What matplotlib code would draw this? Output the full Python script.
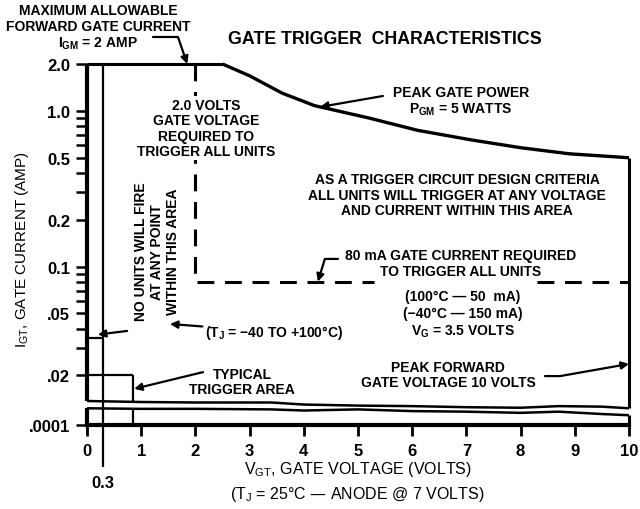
import numpy as np
import matplotlib
matplotlib.use('Agg')
import matplotlib.pyplot as plt

plt.rcParams['font.family'] = ['Liberation Sans', 'DejaVu Sans']
plt.rcParams['mathtext.default'] = 'regular'

# values
x_ticks = [0, 1, 2, 3, 4, 5, 6, 7, 8, 9, 10]
y_ticks = [2.0, 1.0, 0.5, 0.2, 0.1, 0.05, 0.02, 0.0001]
y_ticklabels = ['2.0', '1.0', '0.5', '0.2', '0.1', '.05', '.02', '.0001']
y_minor = [0.9, 0.8, 0.7, 0.6, 0.4, 0.3, 0.09, 0.08, 0.07, 0.06, 0.04, 0.03]

igm = 2.0          # max forward gate current
i_floor = 0.0001   # bottom of the broken axis
v_max = 10.0       # peak forward gate voltage
v_trig = 2.0       # gate voltage to trigger all units
i_trig = 0.08      # gate current to trigger all units
dash_gap = [5.3, 8.3]
v_nofire = 0.3
i_nofire = 0.035
v_typ = 0.85
i_typ = 0.02

# peak gate power curve (5 W)
power_v = [2.5, 3.0, 3.6, 4.2, 5.2, 6.1, 7.1, 8.0, 8.9, 10.0]
power_i = [2.0, 1.68, 1.3, 1.08, 0.9, 0.75, 0.65, 0.58, 0.53, 0.5]

# wavy lines of the axis break
break_v = [0, 1, 2, 3.4, 4, 5, 6, 7, 8, 8.7, 9.5, 10]
break_upper = [0.0137, 0.0135, 0.0134, 0.0134, 0.0130, 0.0128, 0.0127, 0.0125, 0.0124, 0.0127, 0.0126, 0.0123]
break_lower = [0.0123, 0.0122, 0.0122, 0.0121, 0.0119, 0.0121, 0.0118, 0.0117, 0.0115, 0.0117, 0.0113, 0.0111]

# broken log scale: normal log above LB, squeezed below
LB = np.log10(0.0108)
K = 0.025


def fwd(y):
    y = np.asarray(y, dtype=float)
    with np.errstate(all='ignore'):
        ly = np.log10(np.where(y > 0, y, 1e-300))
        return np.where(ly >= LB, ly, LB - (LB - ly) * K)


def inv(t):
    t = np.asarray(t, dtype=float)
    with np.errstate(all='ignore'):
        return np.where(t >= LB, 10.0 ** t, 10.0 ** (LB - (LB - t) / K))


fig = plt.figure(figsize=(6.4, 5.1), dpi=100)
ax = fig.add_axes([87 / 640, 84 / 510, 542 / 640, 361 / 510])
ax.set_yscale('function', functions=(fwd, inv))
ax.set_xlim(0, 10)
ax.set_ylim(i_floor, igm)

for s in ['top', 'right', 'left']:
    ax.spines[s].set_visible(False)
ax.spines['bottom'].set_linewidth(3)

k = dict(color='black', clip_on=False, solid_capstyle='butt')
up_typ = np.interp(v_typ, break_v, break_upper)
lo_typ = np.interp(v_typ, break_v, break_lower)

# outline of the allowed region
ax.plot([0, 0], [igm, break_upper[0]], lw=3, **k)
ax.plot([0, 0], [break_lower[0], i_floor], lw=3, **k)
ax.plot([0, power_v[0]], [igm, igm], lw=2.2, **k)
ax.plot(power_v, power_i, lw=2.4, **k)
ax.plot([v_max, v_max], [power_i[-1], break_upper[-1]], lw=2.2, **k)
ax.plot([v_max, v_max], [break_lower[-1], i_floor], lw=2.2, **k)
ax.plot(break_v, break_upper, lw=1.8, **k)
ax.plot(break_v, break_lower, lw=1.8, **k)

# no-fire strip and typical trigger area
ax.plot([v_nofire, v_nofire], [igm, i_floor], lw=1.6, **k)
ax.plot([0, v_nofire], [i_nofire, i_nofire], lw=1.6, **k)
ax.plot([0, v_typ], [i_typ, i_typ], lw=1.6, **k)
ax.plot([v_typ, v_typ], [i_typ, up_typ], lw=1.6, **k)
ax.plot([v_typ, v_typ], [lo_typ, i_floor], lw=1.6, **k)

# dashed trigger boundary
ax.plot([v_trig, v_trig, dash_gap[0]], [igm, i_trig, i_trig], lw=2.2,
        dashes=(5.5, 3.5), color='black', clip_on=False)
ax.plot([dash_gap[1], v_max], [i_trig, i_trig], lw=2.2,
        dashes=(5.5, 3.5), color='black', clip_on=False)

# ticks
ax.set_xticks(x_ticks)
ax.set_xticks([0.3], ['0.3'], minor=True)
ax.set_yticks(y_ticks, y_ticklabels)
ax.set_yticks(y_minor, minor=True)
ax.tick_params(axis='x', which='major', direction='out', length=8, width=2,
               pad=5, labelsize=12)
ax.tick_params(axis='x', which='minor', direction='out', length=30, width=1.6,
               pad=6, labelsize=12)
ax.tick_params(axis='y', which='both', direction='out', length=8, width=1.8,
               pad=4, labelsize=12)
for lab in ax.get_xticklabels(which='both') + ax.get_yticklabels():
    lab.set_fontweight('bold')

tb = dict(fontsize=10, fontweight='bold', ha='center', va='center')
ap = dict(arrowstyle='-|>', color='black', lw=1.6, mutation_scale=11,
          shrinkA=0, shrinkB=0)

ax.text(2.2, 0.776, '2.0 VOLTS\nGATE VOLTAGE\nREQUIRED TO\nTRIGGER ALL UNITS',
        linespacing=1.15, bbox=dict(fc='white', ec='none', pad=1), **tb)
ax.text(1.29, 0.126, 'NO UNITS WILL FIRE\nAT ANY POINT\nWITHIN THIS AREA',
        rotation=90, linespacing=1.15, **tb)
ax.annotate(r'($T_J$ = −40 TO +100°C)', xy=(1.53, 0.0428), xytext=(2.18, 0.038),
            fontsize=10, fontweight='bold', ha='left', va='center',
            arrowprops=ap)
ax.annotate('', xy=(0.2, 0.0366), xytext=(0.74, 0.0386), arrowprops=ap)
ax.text(6.83, 0.290, 'AS A TRIGGER CIRCUIT DESIGN CRITERIA\n'
        'ALL UNITS WILL TRIGGER AT ANY VOLTAGE\nAND CURRENT WITHIN THIS AREA',
        linespacing=1.17, **tb)
ax.text(6.9, 0.105, '80 mA GATE CURRENT REQUIRED\nTO TRIGGER ALL UNITS',
        linespacing=1.15, **tb)
ax.annotate('', xy=(4.26, i_trig), xytext=(4.63, 0.112),
            arrowprops=dict(ap, connectionstyle='angle,angleA=0,angleB=73,rad=0'))
ax.text(6.94, 0.0496, '(100°C — 50  mA)\n(−40°C — 150 mA)\n$V_G$ = 3.5 VOLTS',
        linespacing=1.25, **tb)
ax.text(6.66, 0.0203, 'PEAK FORWARD\nGATE VOLTAGE 10 VOLTS', linespacing=1.15, **tb)
ax.annotate('', xy=(v_max, 0.0237), xytext=(8.45, 0.0198),
            arrowprops=dict(ap, connectionstyle='angle,angleA=0,angleB=10,rad=0'))
ax.text(2.86, 0.0183, 'TYPICAL\nTRIGGER AREA', linespacing=1.15, **tb)
ax.annotate('', xy=(0.87, 0.0164), xytext=(2.14, 0.0210), arrowprops=ap)
ax.text(6.9, 1.157, 'PEAK GATE POWER\n$P_{GM}$ = 5 WATTS', linespacing=1.2, **tb)
ax.annotate('', xy=(4.3, 1.06), xytext=(5.46, 1.246), arrowprops=ap)

# text outside the axes
fig.text(98 / 640, 1 - 28 / 510,
         'MAXIMUM ALLOWABLE\nFORWARD GATE CURRENT\n$I_{GM}$ = 2 AMP',
         linespacing=1.15, **tb)
ax.annotate('', xy=(1.85, igm), xytext=(153, 510 - 38),
            textcoords='figure pixels',
            arrowprops=dict(ap, connectionstyle='angle,angleA=0,angleB=109,rad=0'))
fig.text(385 / 640, 1 - 40 / 510, 'GATE TRIGGER  CHARACTERISTICS',
         fontsize=12.8, fontweight='bold', ha='center', va='center')
fig.text(22 / 640, 1 - 250 / 510, '$I_{GT}$, GATE CURRENT (AMP)',
         rotation=90, fontsize=11, ha='center', va='center')
fig.text(358 / 640, 1 - 470 / 510, '$V_{GT}$, GATE VOLTAGE (VOLTS)',
         fontsize=11.5, ha='center', va='center')
fig.text(357 / 640, 1 - 495 / 510, '($T_J$ = 25°C — ANODE @ 7 VOLTS)',
         fontsize=11.5, ha='center', va='center')

fig.savefig('out.png', dpi=100)
